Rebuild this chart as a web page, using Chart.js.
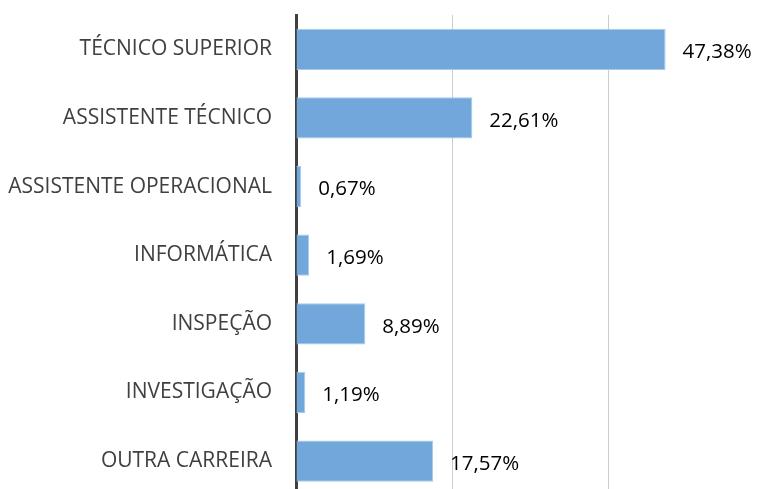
<!DOCTYPE html>
<html>
<head>
<meta charset="utf-8">
<script src="https://cdn.jsdelivr.net/npm/chart.js@4"></script>
<style>
  html, body { margin: 0; padding: 0; background: #fff; overflow: hidden; }
  #wrap { width: 764px; height: 508px; position: relative; }
</style>
</head>
<body>
<div id="wrap"><canvas id="chart"></canvas></div>
<script>
const categories = [
  'TÉCNICO SUPERIOR',
  'ASSISTENTE TÉCNICO',
  'ASSISTENTE OPERACIONAL',
  'INFORMÁTICA',
  'INSPEÇÃO',
  'INVESTIGAÇÃO',
  'OUTRA CARREIRA',
];
const shares = [47.38, 22.61, 0.67, 1.69, 8.89, 1.19, 17.57];
const axisMax = 60;
const gridStep = 20;

const FONT = '"Open Sans", "Noto Sans", sans-serif';

const formatPct = (v) => v.toFixed(2).replace('.', ',') + '%';

// draws "47,38%" style labels just past the end of each bar
const valueLabels = {
  id: 'valueLabels',
  afterDatasetsDraw(chart) {
    const { ctx } = chart;
    const meta = chart.getDatasetMeta(0);
    ctx.save();
    ctx.font = '20.5px ' + FONT;
    ctx.fillStyle = '#000';
    ctx.textAlign = 'left';
    ctx.textBaseline = 'middle';
    meta.data.forEach((bar, i) => {
      ctx.fillText(formatPct(shares[i]), bar.x + 17, bar.y + 3);
    });
    ctx.restore();
  },
};

new Chart(document.getElementById('chart'), {
  type: 'bar',
  data: {
    labels: categories,
    datasets: [
      {
        data: shares,
        backgroundColor: '#71a7db',
        borderColor: '#a9caea',
        borderWidth: 1,
        borderSkipped: 'left',
        barPercentage: 0.6,
        categoryPercentage: 1,
      },
    ],
  },
  options: {
    indexAxis: 'y',
    responsive: true,
    maintainAspectRatio: false,
    animation: false,
    layout: { padding: { top: 15, right: 0, bottom: 0, left: 0 } },
    plugins: { legend: { display: false }, tooltip: { enabled: false } },
    scales: {
      x: {
        min: 0,
        max: axisMax,
        ticks: { display: false, stepSize: gridStep },
        border: { display: false },
        grid: {
          drawTicks: false,
          color: (c) => (c.tick && c.tick.value === 0 ? 'rgba(0,0,0,0)' : '#cccccc'),
          lineWidth: 1,
        },
      },
      y: {
        afterFit: (scale) => { scale.width = 296; },
        ticks: {
          color: '#404040',
          padding: 0,
          font: { family: FONT, size: 21 },
        },
        grid: {
          drawOnChartArea: false,
          drawTicks: true,
          tickLength: 24,
          tickColor: 'rgba(0,0,0,0)',
        },
        border: { display: true, color: '#404040', width: 3 },
      },
    },
  },
  plugins: [valueLabels],
});
</script>
</body>
</html>
